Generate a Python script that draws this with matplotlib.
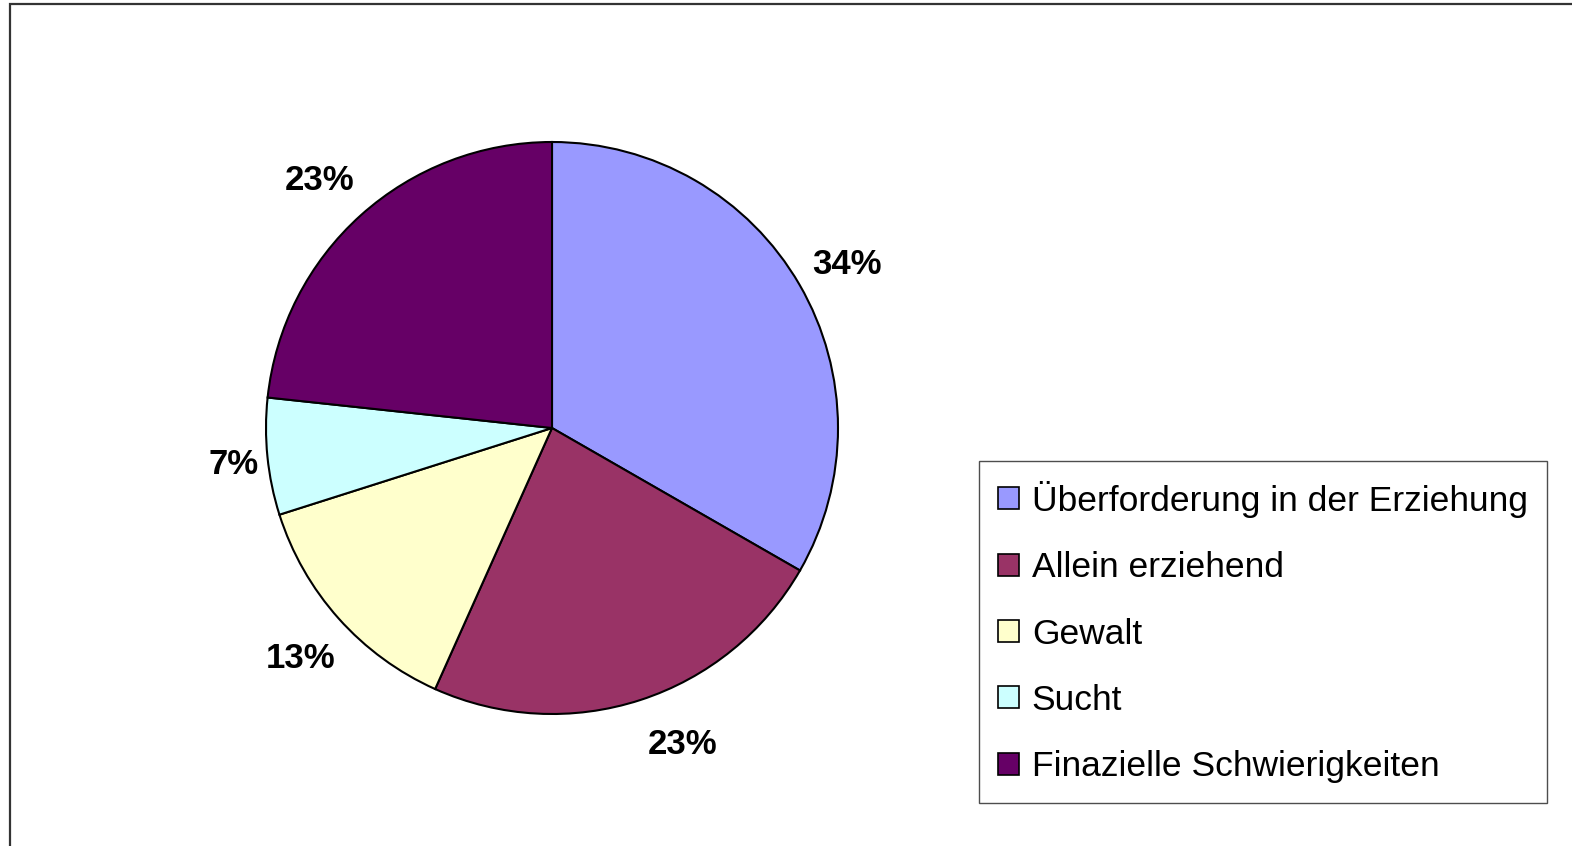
import matplotlib
matplotlib.use('Agg')
import matplotlib.pyplot as plt
from matplotlib.patches import Patch, Rectangle

categories = ['Überforderung in der Erziehung', 'Allein erziehend', 'Gewalt',
              'Sucht', 'Finazielle Schwierigkeiten']
shares = [33.3, 23.4, 13.4, 6.6, 23.3]
pct_labels = ['34%', '23%', '13%', '7%', '23%']
colors = ['#9999FF', '#993366', '#FFFFCC', '#CCFFFF', '#660066']

plt.rcParams['font.family'] = ['Liberation Sans', 'DejaVu Sans']

fig = plt.figure(figsize=(15.72, 8.46), dpi=100)

# Pie area: centre at (552, 428) px, radius 286 px
W, H = 1572, 846
cx, cy, r = 552, 428, 286
ax = fig.add_axes([(cx - r) / W, (H - cy - r) / H, 2 * r / W, 2 * r / H])

wedges, texts = ax.pie(shares, labels=pct_labels, colors=colors,
                       startangle=90, counterclock=False, labeldistance=1.18,
                       wedgeprops=dict(edgecolor='black', linewidth=1.5))

# small nudges (pixels) so labels sit where Excel put them
nudges = [(3, -6), (26, 4), (0, -6), (17, -3), (-7, -4)]
for t, (nx, ny) in zip(texts, nudges):
    x, y = t.get_position()
    t.set_position((x + nx / r, y + ny / r))
    t.set_ha('center')
    t.set_va('center')
    t.set_fontsize(25)
    t.set_fontweight('bold')
ax.set_xlim(-1, 1)
ax.set_ylim(-1, 1)
ax.set_aspect('equal')
ax.axis('off')

handles = [Patch(facecolor=c, edgecolor='black', linewidth=1.2) for c in colors]
leg = fig.legend(handles, categories, loc='center',
                 bbox_to_anchor=(1263 / W, 1 - 632 / H),
                 fontsize=25.5, frameon=True, fancybox=False,
                 handlelength=0.58, handleheight=0.58, handletextpad=0.37,
                 labelspacing=0.94, borderpad=0.55, borderaxespad=0)
leg.get_frame().set_edgecolor('#222222')
leg.get_frame().set_linewidth(1.0)

# outer chart frame (only left and top visible in the crop)
fig.add_artist(Rectangle((9.5 / W, -0.05), 1.1, 1 - 4.5 / H + 0.05,
                         transform=fig.transFigure, fill=False,
                         edgecolor='#333333', linewidth=1.6))

fig.savefig('out.png', dpi=100)
